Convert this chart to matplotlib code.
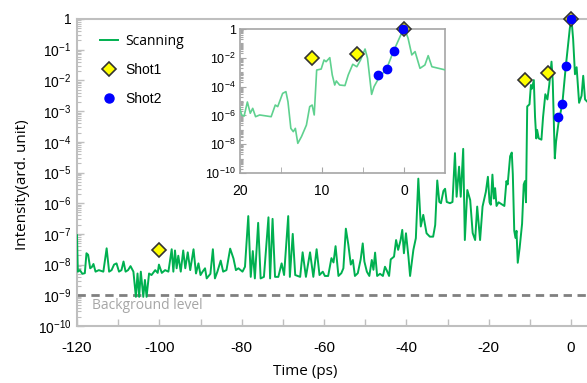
import numpy as np
import matplotlib
matplotlib.use("Agg")
import matplotlib.pyplot as plt
from matplotlib.ticker import FixedLocator, LogLocator, NullFormatter, MultipleLocator
from matplotlib.lines import Line2D

plt.rcParams["font.family"] = ["Liberation Sans", "DejaVu Sans"]
plt.rcParams["mathtext.default"] = "regular"
plt.rcParams["axes.unicode_minus"] = False

# scanning trace: time (ps) and log10(intensity)
scan_t = [
    -120.0, -119.8, -119.3, -118.7, -118.1, -117.7, -117.3, -116.8, -116.4, -116.0,
    -115.5, -114.7, -113.6, -112.8, -112.2, -111.6, -111.0, -110.4, -109.8, -109.2,
    -108.7, -108.2, -107.6, -107.0, -106.3, -105.7, -105.3, -104.9, -104.5, -103.9,
    -103.5, -103.1, -102.5, -101.9, -101.0, -100.4, -100.1, -99.4, -98.6, -97.8,
    -97.0, -96.6, -96.2, -95.8, -95.4, -94.8, -94.2, -93.7, -93.1, -92.5,
    -91.7, -91.1, -90.5, -90.0, -89.5, -88.9, -88.5, -87.6, -87.0, -86.5,
    -85.9, -85.1, -84.5, -83.7, -82.8, -82.0, -81.4, -80.8, -79.8, -79.2,
    -78.4, -77.8, -77.3, -76.8, -76.0, -75.4, -74.6, -73.5, -73.1, -72.5,
    -71.9, -71.1, -70.3, -69.7, -68.7, -68.3, -67.6, -67.0, -65.8, -65.2,
    -64.4, -63.4, -62.6, -61.8, -61.1, -60.3, -59.8, -59.0, -58.2, -57.7,
    -57.2, -56.5, -55.8, -55.3, -54.7, -54.1, -53.5, -53.0, -52.5, -51.8,
    -51.1, -50.6, -50.2, -49.6, -49.0, -48.4, -48.0, -47.6, -47.1, -46.4,
    -45.7, -45.2, -44.8, -44.2, -43.8, -43.0, -42.5, -42.0, -41.4, -41.0,
    -40.6, -40.1, -39.5, -39.1, -38.3, -37.7, -37.1, -36.5, -35.9, -35.1,
    -34.3, -33.5, -33.0, -32.5, -32.0, -31.6, -31.0, -30.6, -30.2, -29.4,
    -28.8, -28.2, -27.8, -27.2, -26.8, -26.2, -25.8, -25.2, -24.5, -23.9,
    -23.3, -22.8, -22.1, -21.5, -20.7, -20.2, -19.8, -19.5, -19.1, -18.75,
    -18.45, -18.1, -17.6, -16.2, -15.7, -15.4, -14.8, -14.4, -14.15, -13.8,
    -13.5, -13.25, -12.95, -12.5, -11.9, -11.5, -11.2, -10.95, -10.65, -10.1,
    -9.75, -9.5, -9.05, -8.75, -8.45, -8.25, -7.85, -7.2, -6.8, -6.25,
    -5.75, -5.3, -4.75, -4.45, -3.95, -3.65, -3.1, -2.1, -1.3, -0.3,
    0.1, 0.5, 0.95, 1.35, 1.95, 2.55, 2.95, 3.4, 4.2, 5.1,
]
scan_log = [
    -7.04, -8.23, -8.18, -8.30, -8.28, -7.63, -7.68, -8.12, -8.08, -7.98,
    -8.23, -8.18, -8.23, -7.47, -8.23, -8.18, -8.00, -7.96, -8.23, -8.18,
    -7.90, -8.23, -8.18, -8.05, -8.23, -9.05, -8.29, -9.05, -8.23, -9.05,
    -8.50, -9.05, -8.29, -8.34, -8.18, -8.27, -8.00, -8.27, -8.18, -8.23,
    -7.50, -8.23, -7.54, -8.12, -7.71, -8.23, -7.54, -8.12, -7.60, -8.18,
    -7.50, -8.29, -7.96, -8.34, -8.23, -8.12, -8.45, -8.30, -7.50, -8.45,
    -8.23, -7.87, -8.23, -8.18, -7.48, -7.80, -8.18, -8.12, -8.23, -8.07,
    -6.42, -8.40, -7.56, -8.45, -6.64, -8.45, -8.40, -6.46, -8.45, -6.51,
    -8.40, -8.40, -7.96, -8.34, -6.42, -8.40, -7.00, -8.34, -8.40, -7.60,
    -8.40, -7.60, -8.40, -7.50, -8.34, -8.23, -8.37, -8.37, -7.79, -7.93,
    -7.40, -8.37, -8.28, -8.12, -6.83, -7.35, -8.00, -7.85, -8.37, -8.28,
    -7.83, -7.31, -7.90, -8.23, -8.37, -7.85, -8.17, -7.61, -8.37, -8.30,
    -8.37, -8.07, -8.18, -8.37, -7.83, -7.74, -7.20, -7.52, -7.20, -6.87,
    -7.63, -6.98, -7.74, -8.37, -7.52, -7.14, -5.20, -6.76, -6.38, -6.98,
    -7.09, -7.09, -6.71, -5.26, -5.96, -6.00, -5.60, -5.53, -5.96, -6.00,
    -5.96, -4.37, -5.79, -4.81, -5.79, -4.23, -7.20, -5.57, -5.90, -6.97,
    -7.20, -6.11, -7.20, -6.11, -5.63, -5.14, -5.97, -6.05, -5.07, -5.85,
    -5.51, -6.09, -5.97, -6.09, -5.28, -5.39, -4.47, -4.35, -5.05, -6.90,
    -7.13, -6.90, -7.94, -7.47, -6.67, -5.39, -5.28, -5.97, -2.85, -2.78,
    -2.15, -2.27, -1.99, -3.19, -3.89, -3.61, -3.89, -3.93, -3.19, -2.45,
    -2.62, -2.15, -1.39, -2.03, -4.54, -4.00, -3.43, -2.73, -1.57, -0.30,
    0.00, -0.65, -1.80, -1.57, -2.73, -2.50, -1.85, -2.62, -2.73, -2.85,
]

shot1_t = [-100.0, -11.2, -5.7, 0.0]
shot1_log = [-7.53, -2.0, -1.76, 0.0]
shot2_t = [-3.2, -2.1, -1.2, -0.1]
shot2_log = [-3.18, -2.77, -1.52, 0.0]

background = 1e-9

main_xticks = [-120, -100, -80, -60, -40, -20, 0]
main_yexp = list(range(-10, 1))
inset_xticks = [20, 10, 0]
inset_yexp = [-10, -8, -6, -4, -2, 0]

GREEN = "#00b050"
SPINE = "#bfbfbf"


def pow_label(e):
    return "1" if e == 0 else "$10^{%d}$" % e


def style_log_y(ax, exps, size):
    ax.set_yscale("log")
    ax.set_ylim(1e-10, 1)
    ax.yaxis.set_major_locator(FixedLocator([10.0 ** e for e in exps]))
    ax.set_yticklabels([pow_label(e) for e in exps], fontsize=size)
    ax.yaxis.set_minor_locator(LogLocator(base=10, subs=np.arange(2, 10), numticks=50))
    ax.yaxis.set_minor_formatter(NullFormatter())


t = np.array(scan_t)
inten = 10.0 ** np.array(scan_log)
s1 = 10.0 ** np.array(shot1_log)
s2 = 10.0 ** np.array(shot2_log)

fig = plt.figure(figsize=(5.87, 3.83), dpi=100)

# main axes
ax = fig.add_axes([77 / 587, 57 / 383, 510 / 587, 307 / 383])
ax.plot(t, inten, color=GREEN, lw=1.4, zorder=3)
ax.plot(shot1_t, s1, ls="none", marker="D", ms=7.5, mfc="#ffff00", mec="#333333",
        mew=1.2, zorder=4, clip_on=False)
ax.plot(shot2_t, s2, ls="none", marker="o", ms=6, mfc="#0000ff", mec="#0000ff",
        zorder=5, clip_on=False)
ax.axhline(background, color="#808080", lw=2, ls=(0, (3, 2)), zorder=2)
ax.text(-116.4, 10 ** -9.33, "Background level", color="#a6a6a6", fontsize=10,
        family=["Open Sans", "DejaVu Sans"], va="center", ha="left")

ax.set_xlim(-120, 3.87)
style_log_y(ax, main_yexp, 10)
ax.xaxis.set_major_locator(FixedLocator(main_xticks))
ax.set_xticklabels([str(v) for v in main_xticks], fontsize=11)
ax.xaxis.set_minor_locator(MultipleLocator(10))
ax.tick_params(which="both", direction="in", color=SPINE)
ax.tick_params(axis="x", which="both", length=5, width=1, pad=11)
ax.tick_params(axis="y", which="major", length=5, width=1, pad=4)
ax.tick_params(axis="y", which="minor", length=3, width=0.8)
for side in ["left", "bottom", "top"]:
    ax.spines[side].set_color(SPINE)
    ax.spines[side].set_linewidth(1.5)
ax.spines["right"].set_visible(False)

ax.set_xlabel("Time (ps)", fontsize=11, family=["Open Sans", "DejaVu Sans"])
ax.xaxis.set_label_coords(0.447, -0.125)
ax.set_ylabel("Intensity(ard. unit)", fontsize=11, family=["Open Sans", "DejaVu Sans"])
ax.yaxis.set_label_coords(-0.092, 0.46)

handles = [
    Line2D([], [], color=GREEN, lw=1.4),
    Line2D([], [], ls="none", marker="D", ms=7, mfc="#ffff00", mec="#333333", mew=1.2),
    Line2D([], [], ls="none", marker="o", ms=6.5, mfc="#0000ff", mec="#0000ff"),
]
leg = ax.legend(handles, ["Scanning", "Shot1", "Shot2"], loc="upper left",
                bbox_to_anchor=(0.045, 0.952), frameon=False, fontsize=10,
                handlelength=1.3, handletextpad=0.5, labelspacing=1.05,
                borderpad=0, borderaxespad=0)
leg.get_texts()[0].set_family(["Open Sans", "DejaVu Sans"])

# inset: same trace against reversed time
ins = fig.add_axes([240 / 587, 210 / 383, 205 / 587, 144 / 383])
ins.plot(-t, inten, color="#5fd18f", lw=1.2, zorder=3)
ins.plot(-np.array(shot1_t), s1, ls="none", marker="D", ms=7, mfc="#ffff00",
         mec="#333333", mew=1.2, zorder=4, clip_on=False)
ins.plot(-np.array(shot2_t), s2, ls="none", marker="o", ms=6, mfc="#0000ff",
         mec="#0000ff", zorder=5, clip_on=False)
ins.set_xlim(20, -5)
style_log_y(ins, inset_yexp, 9)
ins.yaxis.set_minor_locator(LogLocator(base=10, subs=np.arange(1, 10), numticks=50))
ins.xaxis.set_major_locator(FixedLocator(inset_xticks))
ins.set_xticklabels([str(v) for v in inset_xticks], fontsize=10)
ins.xaxis.set_minor_locator(FixedLocator([15, 5]))
ins.tick_params(which="both", direction="in", color="#a6a6a6")
ins.tick_params(axis="x", which="both", length=4, pad=8)
ins.tick_params(axis="y", which="major", length=4, pad=3)
ins.tick_params(axis="y", which="minor", length=2.5, width=0.8)
for side in ins.spines:
    ins.spines[side].set_color("#a6a6a6")
    ins.spines[side].set_linewidth(1.2)

fig.savefig("out.png", dpi=100)
